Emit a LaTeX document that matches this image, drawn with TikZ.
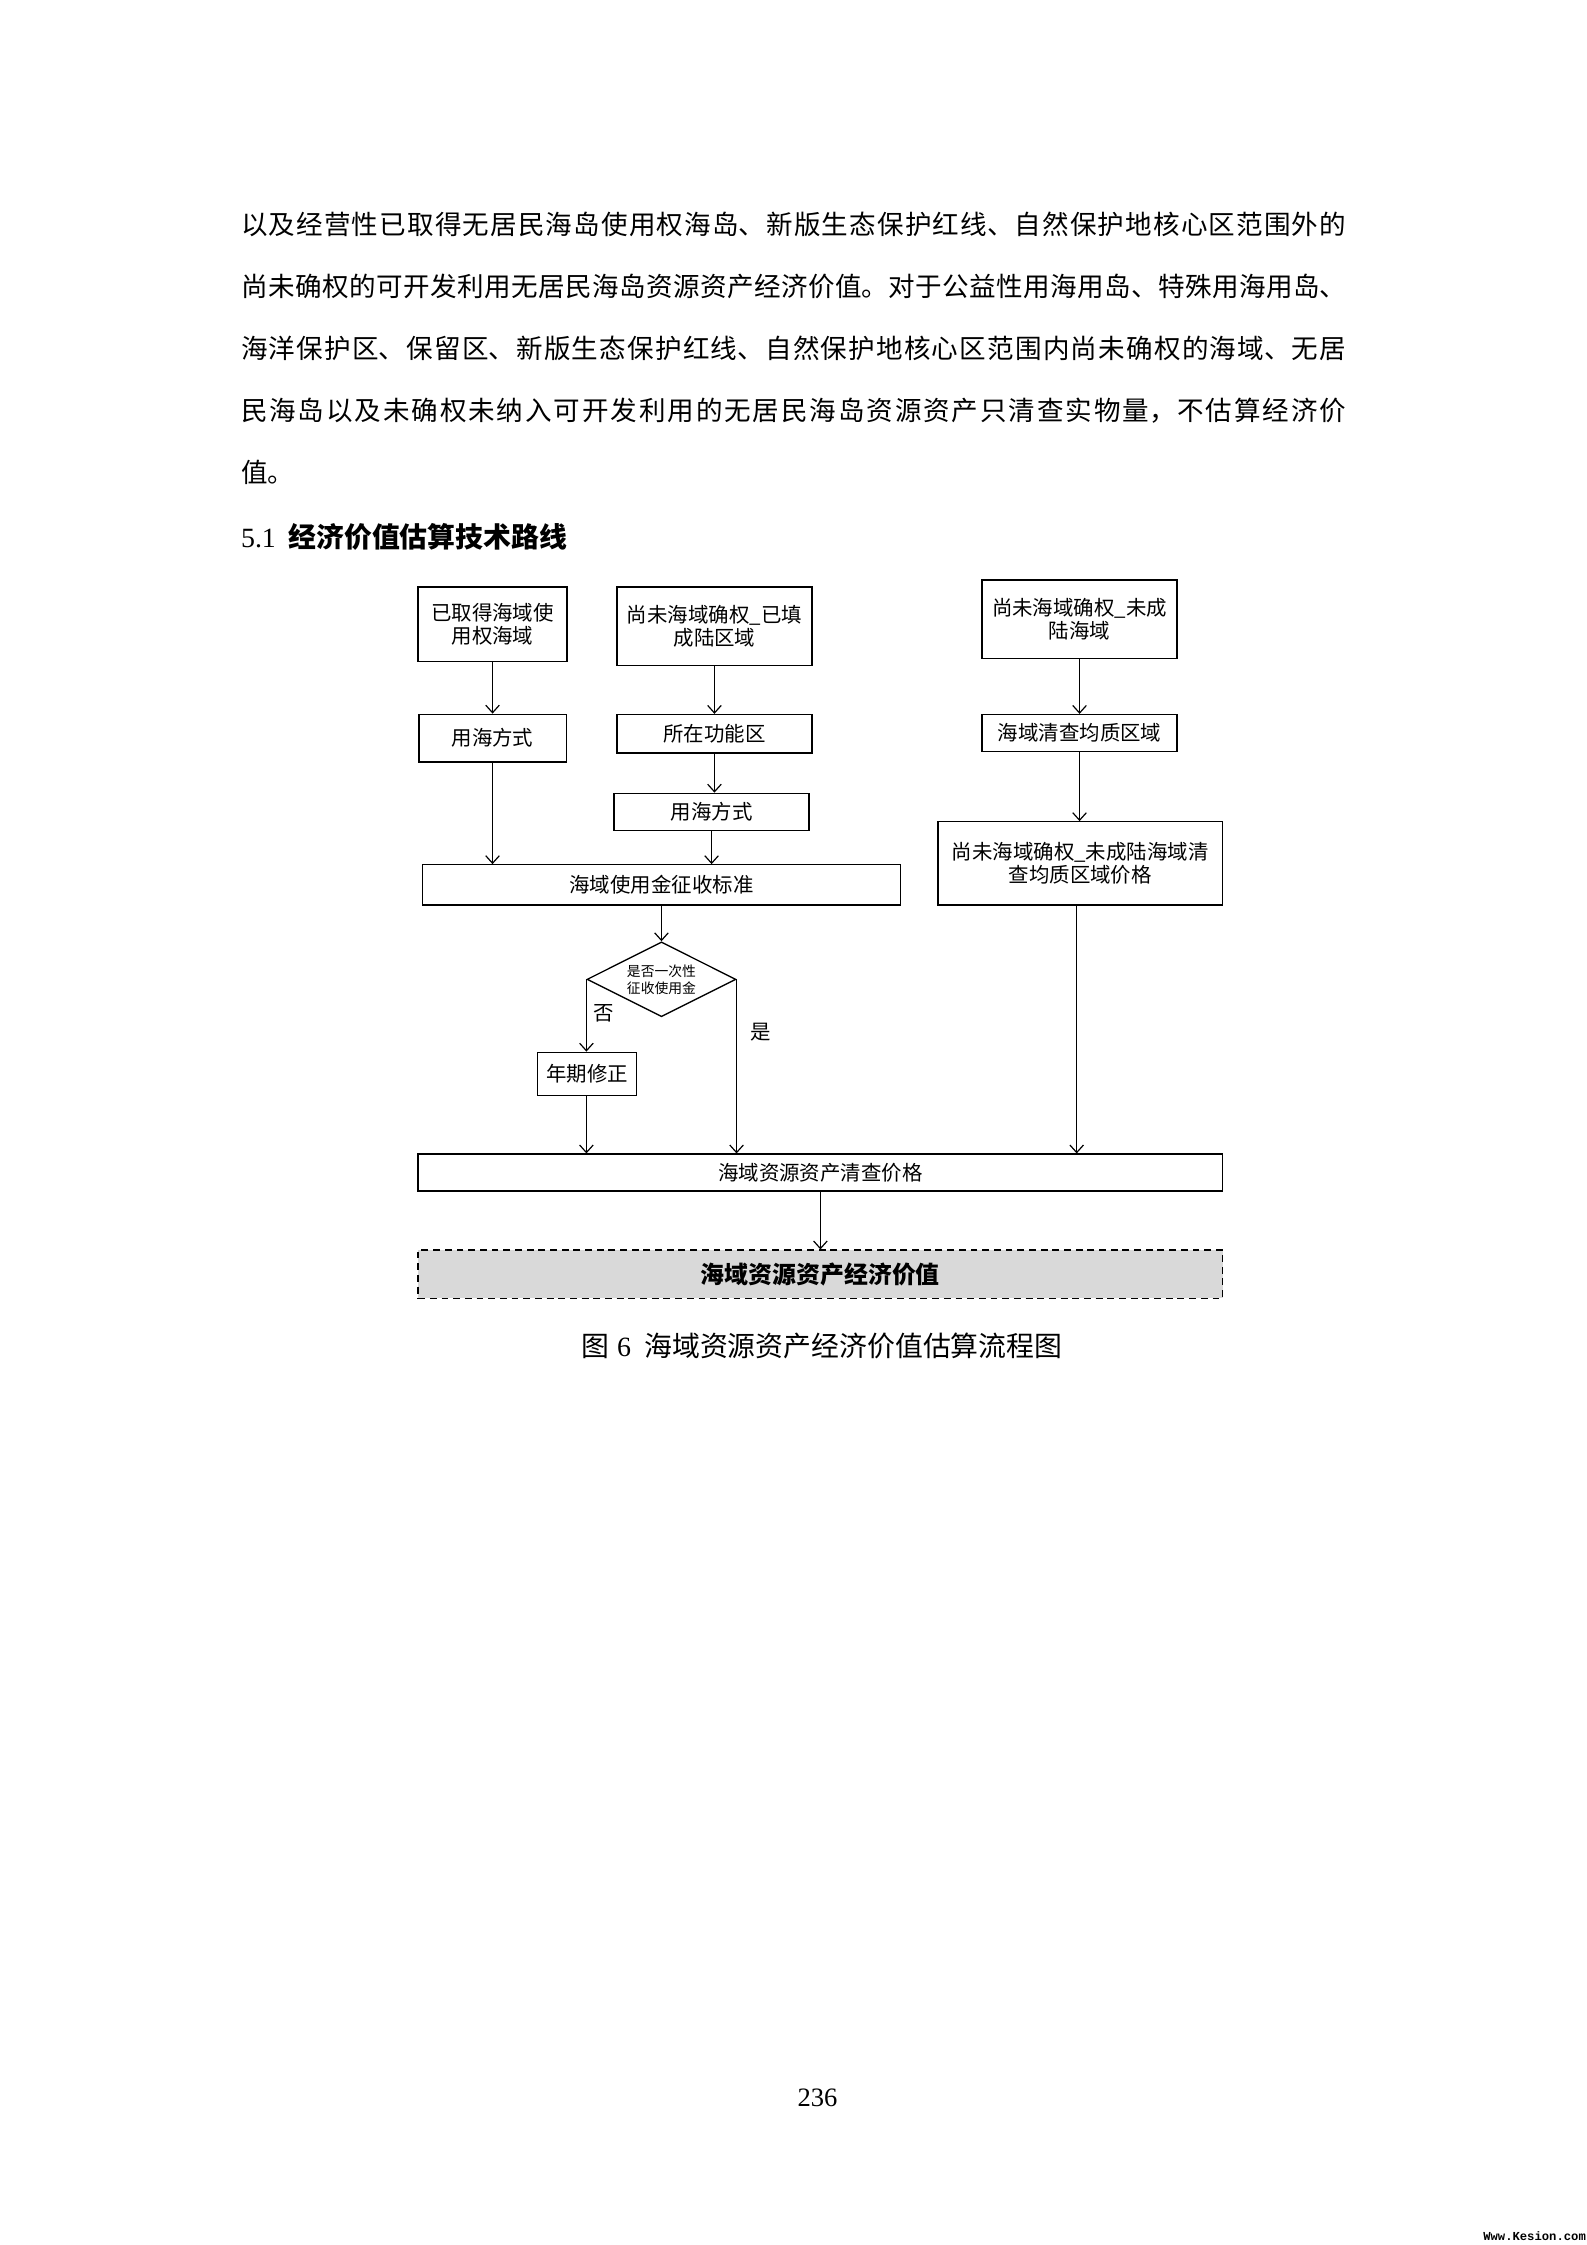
\documentclass[tikz,border=0pt]{standalone}
\usepackage{fontspec}
\setmainfont{Noto Sans CJK SC}
\newfontfamily\tnr{Liberation Serif}
\newfontfamily\wmfont{Liberation Mono}
\usetikzlibrary{shapes.geometric}
\usetikzlibrary{arrows.meta}
\XeTeXlinebreaklocale "zh"
\XeTeXlinebreakskip=0pt plus 1pt
\tikzset{>={Straight Barb[length=1mm,width=1.8mm]}}

\begin{document}
\begin{tikzpicture}[x=0.18953mm, y=-0.18953mm]
\tikzset{box/.style={draw, line width=0.5pt, inner sep=0pt, align=center, font=\fontsize{7.7pt}{8.8pt}\selectfont}}
\tikzset{decision/.style={draw, diamond, aspect=2, line width=0.5pt, inner sep=0pt, align=center, font=\fontsize{5.2pt}{6.4pt}\selectfont, minimum width=19.7mm, minimum height=9.9mm}}
\tikzset{flow/.style={->, line width=0.45pt}}
\tikzset{bodyline/.style={anchor=west, inner sep=0pt, text width=146.3mm, align=justify, font=\fontsize{10pt}{12pt}\selectfont}}
    \useasboundingbox (0,0) rectangle (1108,1568);

    % text above the figure
    \node[bodyline] (line1) at (168,157) {\parfillskip=0pt 以及经营性已取得无居民海岛使用权海岛、新版生态保护红线、自然保护地核心区范围外的\par};
    \node[bodyline] (line2) at (168,200) {\parfillskip=0pt 尚未确权的可开发利用无居民海岛资源资产经济价值。对于公益性用海用岛、特殊用海用岛、\par};
    \node[bodyline] (line3) at (168,243) {\parfillskip=0pt 海洋保护区、保留区、新版生态保护红线、自然保护地核心区范围内尚未确权的海域、无居\par};
    \node[bodyline] (line4) at (168,287) {\parfillskip=0pt 民海岛以及未确权未纳入可开发利用的无居民海岛资源资产只清查实物量，不估算经济价\par};
    \node[anchor=west, inner sep=0pt, font=\fontsize{10pt}{12pt}\selectfont] (line5) at (168,330) {值。};
    \node[anchor=west, inner sep=0pt, font=\fontsize{10.5pt}{12pt}\selectfont] (sectitle) at (168,375) {{\tnr 5.1}\hspace{0.45em}\textbf{经济价值估算技术路线}};

% % % % % % % % % % % % % % % % % % %
    \node[box, minimum width=19.7mm, minimum height=9.9mm] (A1) at (344,436) {已取得海域使\\用权海域};
    \node[box, minimum width=19.5mm, minimum height=6.3mm] (A2) at (344,515.5) {用海方式};

    \node[box, minimum width=25.8mm, minimum height=10.4mm] (B1) at (499,437.5) {尚未海域确权\_已填\\成陆区域};
    \node[box, minimum width=25.8mm, minimum height=5.1mm] (B2) at (499,512.5) {所在功能区};
    \node[box, minimum width=25.8mm, minimum height=4.9mm] (B3) at (497,567) {用海方式};

    \node[box, minimum width=25.8mm, minimum height=10.4mm] (C1) at (754,432.5) {尚未海域确权\_未成\\陆海域};
    \node[box, minimum width=25.8mm, minimum height=4.9mm] (C2) at (754,512) {海域清查均质区域};
    \node[box, minimum width=37.7mm, minimum height=11mm] (C3) at (754.5,603) {尚未海域确权\_未成陆海域清\\查均质区域价格};

    \node[box, minimum width=63.3mm, minimum height=5.3mm] (S) at (462,618) {海域使用金征收标准};
    \node[decision] (D) at (462,684) {是否一次性\\征收使用金};
    \node[box, minimum width=13.1mm, minimum height=5.7mm] (Y) at (410,750) {年期修正};

    \node[box, minimum width=106.5mm, minimum height=4.9mm] (P) at (573,819) {海域资源资产清查价格};
    \node[box, minimum width=106.5mm, minimum height=6.4mm, fill=black!15, dash pattern=on 2.6pt off 1.8pt, font=\fontsize{9pt}{10pt}\selectfont\bfseries] (V) at (573,890) {海域资源资产经济价值};

    \node[font=\fontsize{7.7pt}{8pt}\selectfont, inner sep=0pt] (lblno) at (422,708) {否};
    \node[font=\fontsize{7.7pt}{8pt}\selectfont, inner sep=0pt] (lblyes) at (531,721) {是};

    \draw[flow] (A1) -- (A2);
    \draw[flow] (A2.south) -- (A2.south |- S.north);
    \draw[flow] (B1.south -| B2.north) -- (B2.north);
    \draw[flow] (B2.south) -- (B2.south |- B3.north);
    \draw[flow] (B3.south) -- (B3.south |- S.north);
    \draw[flow] (C1) -- (C2);
    \draw[flow] (C2.south) -- (C2.south |- C3.north);

    \draw[flow] (S.south) -- (D.north);
    \draw[flow] (D.west) -- (D.west |- Y.north);
    \draw[flow] (D.east) -- (D.east |- P.north);
    \draw[flow] (Y.south -| D.west) -- (D.west |- P.north);
    \draw[flow] (C3.south -| 752,0) -- (752,0 |- P.north);
    \draw[flow] (P) -- (V);

% % % % % % % % % % % % % % % % % % %
    \node[font=\fontsize{10.5pt}{12pt}\selectfont, inner sep=0pt] (caption) at (574,940) {图\hspace{3pt}{\tnr 6}\hspace{5pt}海域资源资产经济价值估算流程图};
    \node[font=\tnr\fontsize{10pt}{12pt}\selectfont, inner sep=0pt] (pagenum) at (571,1465) {236};
    \node[anchor=east, font=\wmfont\bfseries\fontsize{4.6pt}{5pt}\selectfont, inner sep=0pt] (watermark) at (1108,1562) {Www.Kesion.com};
\end{tikzpicture}
\end{document}
